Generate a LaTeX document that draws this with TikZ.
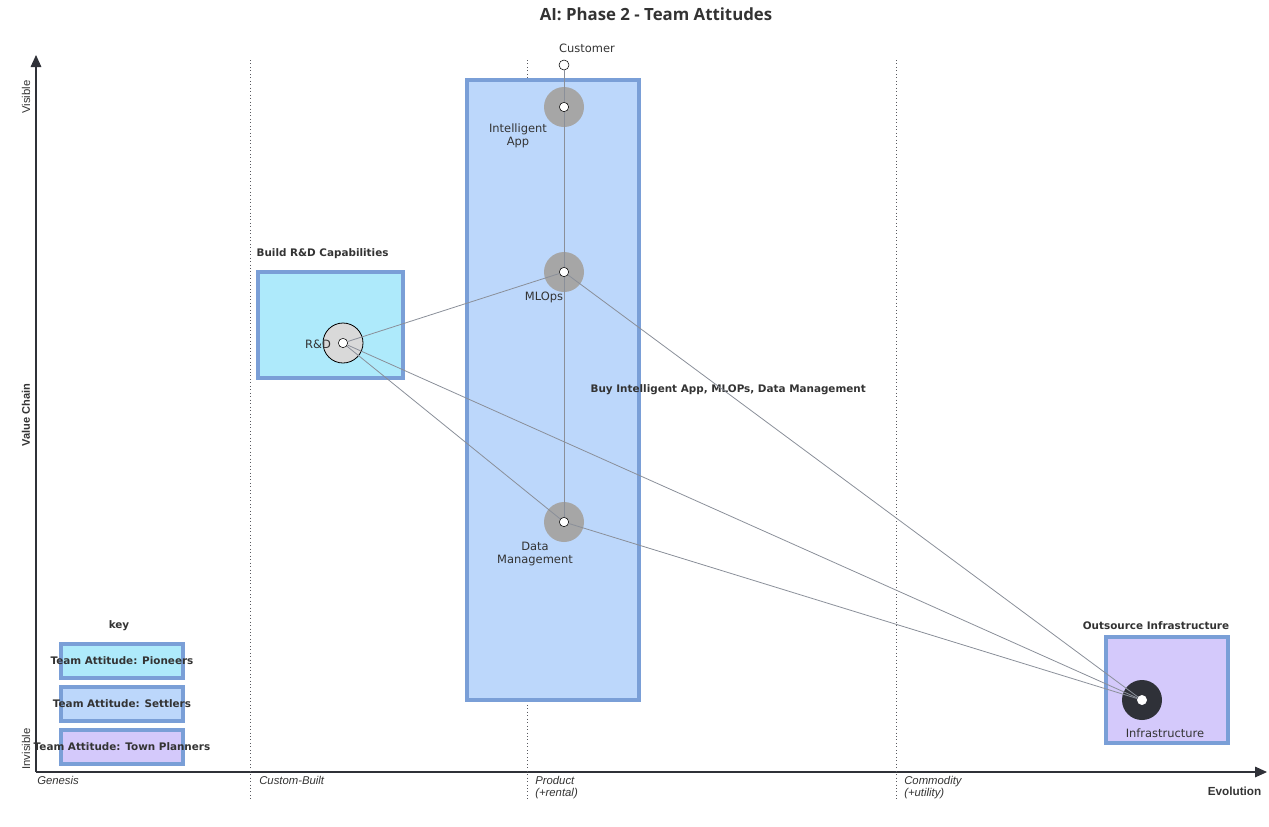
\documentclass[tikz,border=0pt]{standalone}
\usepackage{fontspec}
\setmainfont{Liberation Sans}
\newfontfamily\compfont{DejaVu Sans}
\newfontfamily\titlefont{Open Sans}
\usepackage{xcolor}
\usetikzlibrary{arrows.meta,positioning}

\definecolor{pioneerfill}{HTML}{AEEAFB}
\definecolor{settlerfill}{HTML}{BCD7FB}
\definecolor{plannerfill}{HTML}{D4C9FB}
\definecolor{boxedge}{HTML}{7A9FD7}
\definecolor{axiscol}{HTML}{2F3138}
\definecolor{linkcol}{HTML}{8A8F99}
\definecolor{textcol}{HTML}{333333}

\begin{document}
\begin{tikzpicture}[
  x=0.75pt,y=-0.75pt,
  attbox/.style={draw=boxedge,line width=3pt,inner sep=0pt},
  boxlabel/.style={font=\compfont\bfseries\fontsize{7.8}{9}\selectfont,text=textcol,inner sep=1pt},
  complabel/.style={font=\compfont\fontsize{8.6}{10}\selectfont,text=textcol,align=center,inner sep=1pt},
  evolabel/.style={font=\itshape\fontsize{8.5}{9}\selectfont,text=textcol,align=left,anchor=north west,inner sep=0pt},
  halo/.style={circle,fill=gray!70,minimum size=30pt,inner sep=0pt},
  comp/.style={circle,draw=black,fill=white,minimum size=7pt,inner sep=0pt},
  link/.style={draw=linkcol,line width=0.6pt},
  axis/.style={-{Triangle[length=9pt,width=8pt]},draw=axiscol,line width=0.8pt}
]
  \useasboundingbox (0,0) rectangle (1269,826);

  % title and axes
  \node[font=\titlefont\bfseries\fontsize{12.6}{14}\selectfont,text=textcol] (title) at (656,14) {AI: Phase 2 - Team Attitudes};
  \coordinate (origin) at (36,772);
  \coordinate (ytop) at (36,55);
  \coordinate (xend) at (1267,772);
  \draw[axis] (origin) -- (ytop);
  \draw[axis] (origin) -- (xend);
  \node[rotate=90,font=\fontsize{8.5}{9}\selectfont,text=textcol] (visible) at (26,97) {Visible};
  \node[rotate=90,font=\fontsize{8.5}{9}\selectfont,text=textcol] (invisible) at (26,749) {Invisible};
  \node[rotate=90,font=\bfseries\fontsize{8.3}{9}\selectfont,text=textcol] (valuechain) at (26,415) {Value Chain};
  \node[font=\bfseries\fontsize{8.8}{9}\selectfont,text=textcol,anchor=east] (evolution) at (1266,791) {Evolution};

  % evolution stages
  \foreach \x in {250,527,896}
    \draw[dotted,draw=axiscol!80,line width=0.6pt] (\x,60) -- (\x,800);
  \node[evolabel] (genesis) at (37,776) {Genesis};
  \node[evolabel] (custom) at (259,776) {Custom-Built};
  \node[evolabel] (product) at (535,776) {Product\\(+rental)};
  \node[evolabel] (commodity) at (904,776) {Commodity\\(+utility)};

  % team attitude boxes
  \node[attbox,fill=settlerfill,minimum width=129pt,minimum height=465pt] (buy) at (552.5,390) {};
  \node[attbox,fill=pioneerfill,minimum width=109pt,minimum height=80pt] (build) at (330.5,325) {};
  \node[attbox,fill=plannerfill,minimum width=91pt,minimum height=80pt] (outsource) at (1167,690) {};
  \node[boxlabel,anchor=west] (buylabel) at (589,390) {Buy Intelligent App, MLOPs, Data Management};
  \node[boxlabel,anchor=west] (buildlabel) at (255,254) {Build R\&D Capabilities};
  \node[boxlabel] (outsourcelabel) at (1156,626) {Outsource Infrastructure};

  % key
  \node[boxlabel] (key) at (119,626) {key};
  \node[attbox,fill=pioneerfill,minimum width=91pt,minimum height=26pt] (keypioneers) at (122,661) {};
  \node[attbox,fill=settlerfill,minimum width=91pt,minimum height=26pt] (keysettlers) at (122,704) {};
  \node[attbox,fill=plannerfill,minimum width=91pt,minimum height=26pt] (keyplanners) at (122,747) {};
  \node[boxlabel] at (keypioneers) {Team Attitude: Pioneers};
  \node[boxlabel] at (keysettlers) {Team Attitude: Settlers};
  \node[boxlabel] at (keyplanners) {Team Attitude: Town Planners};

  % components
  \node[halo] at (564,107) {};
  \node[halo] at (564,272) {};
  \node[halo] at (564,522) {};
  \node[halo,fill=gray!30,draw=black,line width=0.6pt] at (343,343) {};
  \node[halo,fill=axiscol] at (1142,700) {};

  \coordinate (customerpos) at (564,65);
  \node[comp,minimum size=7.5pt] (customer) at (customerpos) {};
  \node[comp] (app) at (564,107) {};
  \node[comp] (mlops) at (564,272) {};
  \node[comp] (data) at (564,522) {};
  \node[comp] (rd) at (343,343) {};
  \node[comp,draw=white] (infra) at (1142,700) {};

  \draw[link] (customer) -- (app);
  \draw[link] (app) -- (mlops);
  \draw[link] (mlops) -- (data);
  \draw[link] (rd) -- (mlops);
  \draw[link] (rd) -- (data);
  \draw[link] (rd) -- (infra);
  \draw[link] (mlops) -- (infra);
  \draw[link] (data) -- (infra);

  \node[complabel] (customerlabel) at (587,48) {Customer};
  \node[complabel] (applabel) at (518,136) {Intelligent\\App};
  \node[complabel] (mlopslabel) at (544,297) {MLOps};
  \node[complabel] (rdlabel) at (318,344) {R\&D};
  \node[complabel] (datalabel) at (535,554) {Data\\Management};
  \node[complabel] (infralabel) at (1165,733) {Infrastructure};
\end{tikzpicture}
\end{document}
